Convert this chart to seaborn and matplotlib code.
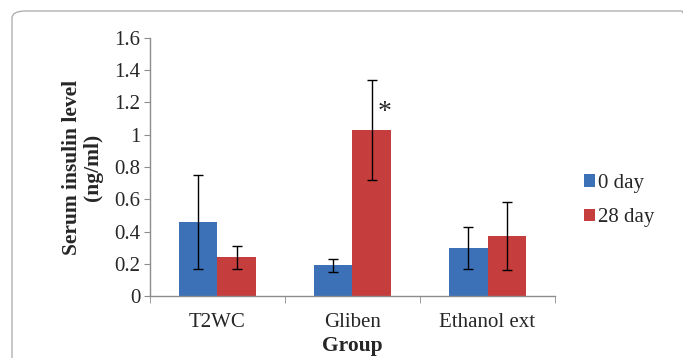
import numpy as np
import pandas as pd
import matplotlib
matplotlib.use("Agg")
from matplotlib import pyplot as plt
from matplotlib.patches import FancyBboxPatch
import seaborn as sns

groups = ["T2WC", "Gliben", "Ethanol ext"]
day0_mean = [0.46, 0.19, 0.30]
day0_err = [0.29, 0.04, 0.13]
day28_mean = [0.24, 1.03, 0.37]
day28_err = [0.07, 0.31, 0.21]
series = ["0 day", "28 day"]
colors = ["#3c70b7", "#c63d3d"]

df = pd.DataFrame({
    "Group": groups * 2,
    "Day": [series[0]] * 3 + [series[1]] * 3,
    "Value": day0_mean + day28_mean,
    "Err": day0_err + day28_err,
})

sns.set_style("white")
plt.rcParams["font.family"] = ["Liberation Serif", "DejaVu Serif"]

fig = plt.figure(figsize=(6.83, 3.58), dpi=100)
ax = fig.add_axes([0.2196, 0.173, 0.5930, 0.721])

sns.barplot(data=df, x="Group", y="Value", hue="Day", palette=colors,
            width=0.57, errorbar=None, ax=ax, edgecolor="none", saturation=1)

# error bars at bar centres
for cont, sub in zip(ax.containers, series):
    errs = df[df["Day"] == sub]["Err"].values
    xs = [b.get_x() + b.get_width() / 2 for b in cont]
    hs = [b.get_height() for b in cont]
    ax.errorbar(xs, hs, yerr=errs, fmt="none", ecolor="black",
                elinewidth=1, capsize=3.5, capthick=1)

# asterisk for Gliben 28 day
b = ax.containers[1][1]
ax.text(b.get_x() + b.get_width() - 0.05, 1.14, "*", fontsize=20,
        ha="center", va="center")

ax.set_ylim(0, 1.6)
ax.set_xlim(-0.5, 2.5)
ax.set_yticks(np.arange(0, 1.61, 0.2))
ax.set_yticklabels(["0", "0.2", "0.4", "0.6", "0.8", "1", "1.2", "1.4", "1.6"])
ax.tick_params(axis="y", labelsize=15, length=4, color="#8c8c8c", left=True, pad=3)
ax.set_xticks([0, 1, 2])
ax.set_xticklabels(groups)
ax.set_xticks([-0.5, 0.5, 1.5, 2.5], minor=True)
ax.tick_params(axis="x", which="major", length=0, labelsize=15, pad=12)
ax.tick_params(axis="x", which="minor", length=5, color="#8c8c8c", bottom=True)

for s in ["top", "right"]:
    ax.spines[s].set_visible(False)
for s in ["left", "bottom"]:
    ax.spines[s].set_color("#8c8c8c")
    ax.spines[s].set_linewidth(1)

ax.set_ylabel("Serum insulin level\n(ng/ml)", fontsize=15.5, fontweight="bold",
              linespacing=1.05, labelpad=8)
ax.set_xlabel("Group", fontsize=15.5, fontweight="bold", labelpad=3)

ax.legend(loc="center left", bbox_to_anchor=(1.05, 0.37), frameon=False,
          fontsize=15, handlelength=0.55, handleheight=0.55, handletextpad=0.15,
          labelspacing=0.75, borderaxespad=0)

frame = FancyBboxPatch((12 / 683, -0.1), 1.0, 1.0 - 11 / 358 + 0.1,
                       boxstyle="round,pad=0,rounding_size=0.02",
                       transform=fig.transFigure, fill=False,
                       edgecolor="#b0b0b0", linewidth=1, clip_on=False)
fig.patches.append(frame)

fig.savefig("out.png", dpi=100)
